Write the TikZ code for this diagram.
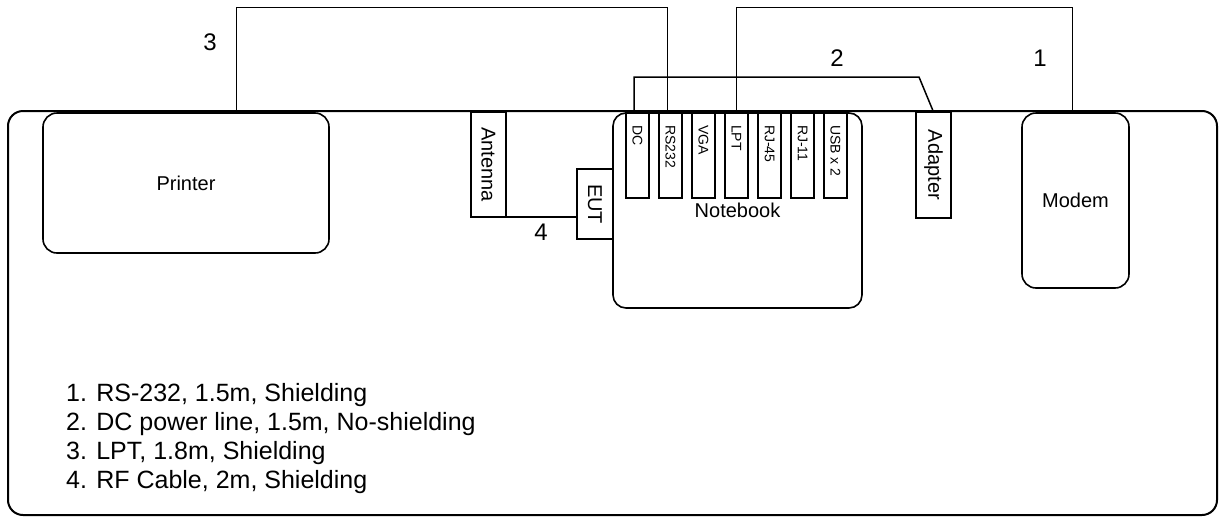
\documentclass[tikz,border=0pt]{standalone}
\usepackage{fontspec}
\setmainfont{Liberation Sans}
\begin{document}
\begin{tikzpicture}[x=1pt,y=-1pt,
  box/.style={draw, line width=1.6pt, inner sep=0pt, outer sep=0pt, rectangle},
  rbox/.style={box, rounded corners=14pt},
  cable/.style={draw, line width=1pt},
  thickcable/.style={draw, line width=1.5pt},
  lbl/.style={font=\fontsize{20}{24}\selectfont},
  vlbl/.style={font=\fontsize{20}{24}\selectfont, inner sep=0pt, rotate=-90},
  plbl/.style={font=\fontsize{14}{17}\selectfont, inner sep=0pt, rotate=-90, anchor=west},
  num/.style={font=\fontsize{24}{28}\selectfont, inner sep=0pt},
  legend/.style={font=\fontsize{25}{27}\selectfont, inner sep=0pt, anchor=base west}]
\useasboundingbox (0,0) rectangle (1222,517);

% frame
\node[rbox, line width=2pt, rounded corners=15pt, minimum width=1209pt, minimum height=404pt] (frame) at (612.5,313) {};

% devices
\node[rbox, lbl, minimum width=286pt, minimum height=140pt] (printer) at (186,183) {Printer};
\node[rbox, lbl, minimum width=249pt, minimum height=195pt, rounded corners=13pt] (notebook) at (737.5,210.5) {Notebook};
\node[rbox, lbl, minimum width=107pt, minimum height=175pt] (modem) at (1075.5,200.5) {Modem};

\node[box, minimum width=35pt, minimum height=105pt] (antenna) at (488.5,164.5) {};
\node[vlbl] (antenna-t) at (antenna.center) {Antenna};
\node[box, minimum width=36pt, minimum height=70pt] (eut) at (595,204) {};
\node[vlbl] (eut-t) at (eut.center) {EUT};
\node[box, minimum width=35pt, minimum height=106pt] (adapter) at (933.5,165) {};
\node[vlbl] (adapter-t) at (adapter.center) {Adapter};

% ports
\foreach \n/\t [count=\i from 0] in {dc/DC, rs/RS232, vga/VGA, lpt/LPT, rjf/RJ-45, rje/RJ-11, usb/USB x 2}{
  \node[box, minimum width=23pt, minimum height=85pt] (\n) at ({637.5+33*\i},155.5) {};
  \node[plbl] (\n-t) at ({637.5+33*\i},125) {\t};
}

% cables
\coordinate (top) at (0,7);
\coordinate (mid) at (0,77);
\coordinate (p3) at ([xshift=50pt]printer.north);
\coordinate (rs3) at ([xshift=-3.5pt]rs.north);
\draw[cable] (p3) -- (p3 |- top) -| (rs3);

\coordinate (m1) at ([xshift=-3.5pt]modem.north);
\draw[cable] (m1) -- (m1 |- top) -| (lpt.north);

\coordinate (dc2) at ([xshift=-3.5pt]dc.north);
\coordinate (bend) at (919,77);
\draw[thickcable] (dc2) -- (dc2 |- mid) -- (bend) -- (adapter.north);

\draw[thickcable] (antenna.south east) -- (antenna.south east -| eut.west);

% cable numbers
\node[num] (n3) at (210,42) {3};
\node[num] (n2) at (837,58) {2};
\node[num] (n1) at (1040,58) {1};
\node[num] (n4) at (541,232) {4};

% legend
\node[legend] (l1) at (66,401) {1. RS-232, 1.5m, Shielding};
\node[legend] (l2) at (66,430) {2. DC power line, 1.5m, No-shielding};
\node[legend] (l3) at (66,459) {3. LPT, 1.8m, Shielding};
\node[legend] (l4) at (66,488) {4. RF Cable, 2m, Shielding};
\end{tikzpicture}
\end{document}
